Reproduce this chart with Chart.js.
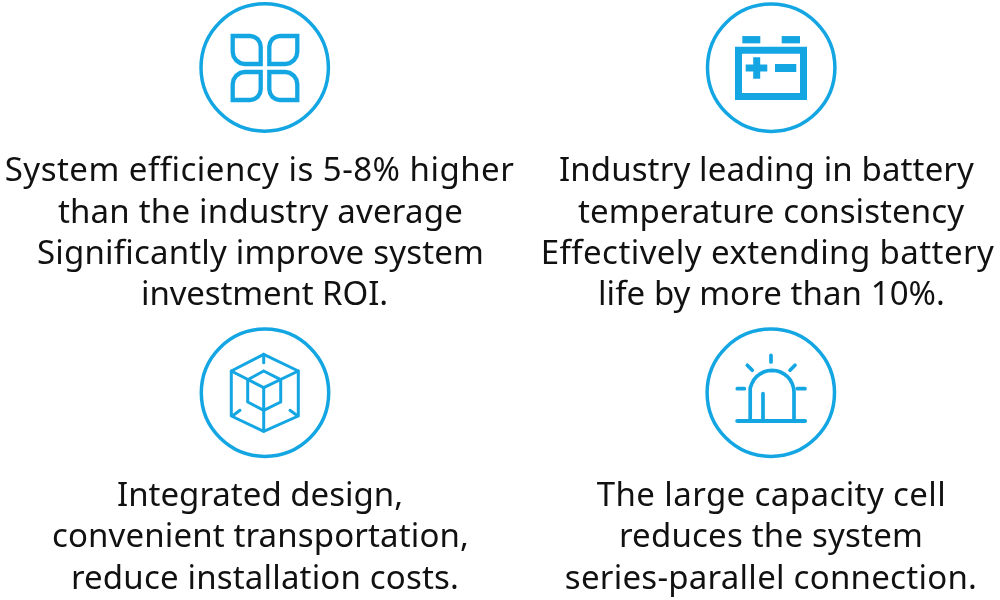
<!DOCTYPE html>
<html><head><meta charset="utf-8">
<style>html,body{margin:0;padding:0;background:#fff}#w{width:1000px;height:600px;position:relative}canvas{display:block}</style>
<script src="https://cdn.jsdelivr.net/npm/chart.js@4"></script></head>
<body><div id="w"><canvas id="c" width="1000" height="600"></canvas></div>
<script>
const captionLines = [
 "System efficiency is 5-8% higher","than the industry average","Significantly improve system","investment ROI.",
 "Industry leading in battery","temperature consistency","Effectively extending battery","life by more than 10%.",
 "Integrated design,","convenient transportation,","reduce installation costs.",
 "The large capacity cell","reduces the system","series-parallel connection."];
const captionX = [259.5,260.5,260.5,264.5,766.5,771,767.5,771.5,260,260.5,265,771.5,771,771];
const captionY = [181,222.5,264,305,181,222.5,264,305,506,547,589,506,547,589];
const captionW = [509,405,447,247,415,386,453,347,286,417,388,349,304,412];
const rings = [{x:264.7,y:67.5},{x:771.2,y:67.7},{x:265,y:392.7},{x:770.8,y:392.7}];
const petalTL = [[232.7,36],[250,36],[254,36.8],[257.6,39.1],[259.9,42.7],[260.7,46.7],[260.7,64],[245,64],[240.3,63.1],[236.3,60.4],[233.6,56.4],[232.7,51.7],[232.7,36]];
const petalTR = [[297.3,36],[280,36],[276,36.8],[272.4,39.1],[270.1,42.7],[269.3,46.7],[269.3,64],[285,64],[289.7,63.1],[293.7,60.4],[296.4,56.4],[297.3,51.7],[297.3,36]];
const petalBL = [[232.7,100],[250,100],[254,99.2],[257.6,96.9],[259.9,93.3],[260.7,89.3],[260.7,72],[245,72],[240.3,72.9],[236.3,75.6],[233.6,79.6],[232.7,84.3],[232.7,100]];
const petalBR = [[297.3,100],[280,100],[276,99.2],[272.4,96.9],[270.1,93.3],[269.3,89.3],[269.3,72],[285,72],[289.7,72.9],[293.7,75.6],[296.4,79.6],[297.3,84.3],[297.3,100]];
const batteryBody = [[738.5,50.2],[803.5,50.2],[803.5,96.5],[738.5,96.5],[738.5,50.2]];
const batteryTermL = [[742.3,39.7],[760.3,39.7]];
const batteryTermR = [[781.7,39.7],[800,39.7]];
const plusH = [[745.7,68],[767.3,68]];
const plusV = [[756.7,57.3],[756.7,78.7]];
const minusBar = [[775,68],[796.3,68]];
const cubeOuter = [[263.7,354.3],[298.3,371],[298.3,416],[263.7,431.3],[231.3,416],[231.3,371],[263.7,354.3]];
const cubeInner = [[263.7,371],[280.7,379.7],[280.7,402],[263.7,410.3],[247.7,402],[247.7,379.7],[263.7,371]];
const cubeY = [[231.3,371],[263.7,387.7],[298.3,371]];
const cubeStem = [[263.7,387.7],[263.7,431.3]];
const cubeTickT = [[263.7,354.3],[263.7,362.7]];
const cubeTickL = [[233.3,415.3],[240,410.3]];
const cubeTickR = [[290,410.3],[296.7,415.3]];
const dome = [[750,421],[750,392.3],[750.4,388],[751.7,383.9],[753.7,380.1],[756.4,376.7],[759.8,374],[763.6,372],[767.7,370.7],[772,370.3],[776.3,370.7],[780.4,372],[784.2,374],[787.6,376.7],[790.3,380.1],[792.3,383.9],[793.6,388],[794,392.3],[794,421]];
const lampBase = [[737.3,421],[805,421]];
const lampPost = [[763,393.7],[763,421]];
const rayT = [[771,355.3],[771,362]];
const rayUL = [[747.3,365.3],[752.3,370.3]];
const rayUR = [[795,365.3],[790,370.3]];
const rayL = [[737.3,388.7],[744.3,388.7]];
const rayR = [[797.3,388.7],[805,388.7]];

const BLUE = "#14a6e3";
const toPts = a => a.map(p => ({x:p[0], y:p[1]}));
const line = (a,w,cap,join) => ({data:toPts(a),showLine:true,fill:false,pointRadius:0,borderColor:BLUE,borderWidth:w,borderCapStyle:cap||"butt",borderJoinStyle:join||"miter",tension:0,clip:false});
const datasets = [
 {data:rings,showLine:false,pointRadius:63.7,pointBorderWidth:3.5,pointBorderColor:BLUE,pointBackgroundColor:"rgba(255,255,255,0)",clip:false},
 ...[petalTL,petalTR,petalBL,petalBR].map(a=>line(a,4.3,"square")),
 line(batteryBody,7,"square"),line(batteryTermL,7.3),line(batteryTermR,7.3),line(plusH,7),line(plusV,7),line(minusBar,8),
 ...[cubeOuter,cubeInner,cubeY,cubeStem,cubeTickT,cubeTickL,cubeTickR].map(a=>line(a,3,"round","round")),
 line(dome,3.7),line(lampBase,4.2,"round"),line(lampPost,3.7,"round"),
 ...[rayT,rayUL,rayUR,rayL,rayR].map(a=>line(a,3.7,"round"))
];
const captions = {id:"captions",afterDraw(chart){
 const {ctx,scales:{x,y}} = chart;
 ctx.save();ctx.fillStyle="#111";ctx.font='400 33px "Noto Sans"';ctx.textAlign="center";ctx.textBaseline="alphabetic";
 captionLines.forEach((t,i)=>{
  ctx.letterSpacing="0px";
  const w=ctx.measureText(t).width;
  ctx.letterSpacing=((captionW[i]-w)/Math.max(1,t.length-1))+"px";
  ctx.fillText(t,x.getPixelForValue(captionX[i]),y.getPixelForValue(captionY[i]));
 });
 ctx.restore();
}};
new Chart(document.getElementById("c"),{type:"scatter",data:{datasets},plugins:[captions],options:{
 responsive:false,animation:false,devicePixelRatio:1,layout:{padding:0,autoPadding:false},
 plugins:{legend:{display:false},tooltip:{enabled:false},title:{display:false}},
 scales:{x:{type:"linear",min:0,max:1000,display:false},y:{type:"linear",min:0,max:600,reverse:true,display:false}}
}});
</script></body></html>
